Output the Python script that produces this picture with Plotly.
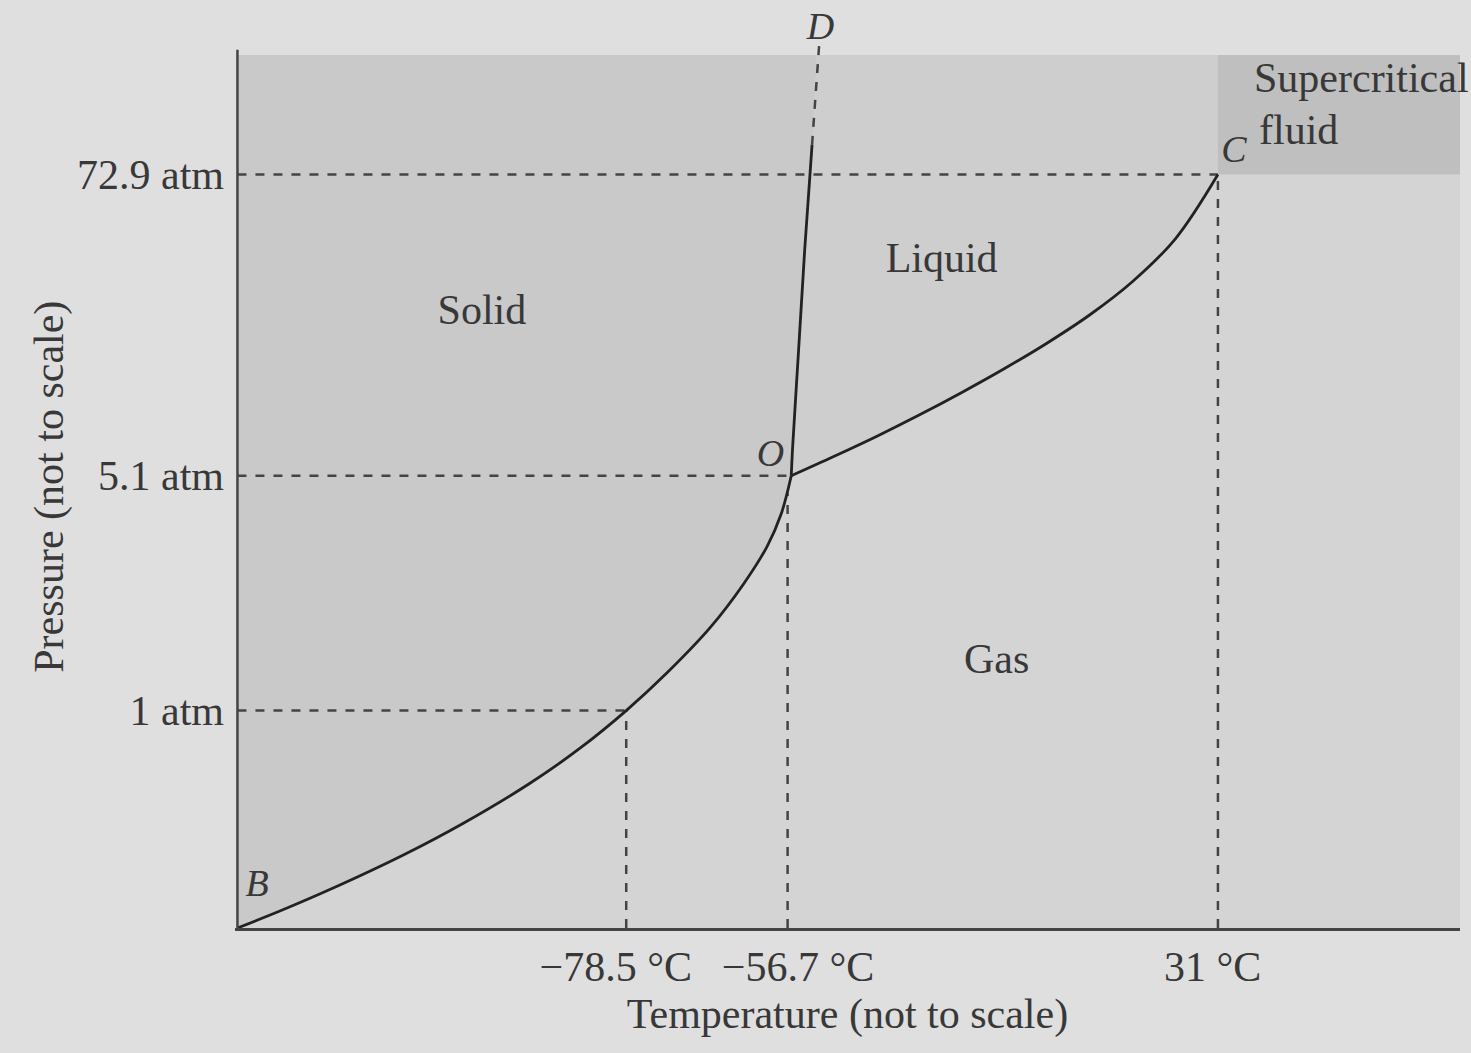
import plotly.graph_objects as go

# ---- data (diagram units, not to scale) ----
x_tick_pos = [31.8, 45.0, 80.2]
x_tick_text = ["\u221278.5 \u00b0C&nbsp;&nbsp;", "&nbsp;&nbsp;\u221256.7 \u00b0C", "31 \u00b0C&nbsp;"]
y_tick_pos = [24.9, 51.8, 86.3]
y_tick_text = ["1 atm", "5.1 atm", "72.9 atm"]

# sublimation curve B -> O
sub_x = [0.0, 3.52, 7.60, 13.57, 18.48, 23.96, 28.05, 31.8, 35.16, 38.68, 41.37, 43.34, 44.48, 45.3]
sub_y = [0.0, 1.97, 4.43, 8.36, 12.00, 16.61, 20.62, 24.9, 29.26, 34.43, 39.35, 43.75, 47.44, 51.8]
# melting curve O -> D (solid part)
melt_x = [45.3, 45.4, 45.9, 46.4, 47.0]
melt_y = [51.8, 54.8, 66.2, 77.7, 89.7]
# dashed continuation towards D
meltd_x = [47.0, 47.6]
meltd_y = [89.7, 101.5]
# vaporisation curve O -> C
vap_x = [45.3, 48.77, 52.27, 55.76, 59.25, 62.75, 66.24, 69.73, 73.22, 76.72, 80.2]
vap_y = [51.8, 54.00, 56.30, 58.75, 61.34, 64.08, 67.01, 70.24, 74.05, 78.94, 86.3]

# ends of the dashed guide lines (where they meet the curves)
guide_v_top = [24.9, 49.8, 86.3]
guide_h_end = [31.8, 45.3, 80.2]

phase_labels = ["Solid", "Liquid", "Gas"]
phase_x = [20.0, 57.6, 62.1]
phase_y = [70.4, 76.3, 30.4]

point_labels = ["B", "O", "C", "D"]
point_x = [1.6, 43.6, 81.5, 47.7]
point_y = [4.7, 54.0, 88.8, 102.9]

FONT = "Liberation Serif"
TXT = "#383838"
LINE = "#222222"
DASH = "#444444"
FS = 42

fig = go.Figure()

# shaded regions
fig.add_trace(go.Scatter(x=[0, 100, 100, 0, 0], y=[0, 0, 100, 100, 0], fill="toself",
                         fillcolor="#d4d4d4", line=dict(width=0), mode="lines",
                         hoverinfo="skip", showlegend=False))
solid_x = sub_x + melt_x[1:] + [47.4, 0, 0]
solid_y = sub_y + melt_y[1:] + [100, 100, 0]
fig.add_trace(go.Scatter(x=solid_x, y=solid_y, fill="toself", fillcolor="#c9c9c9",
                         line=dict(width=0), mode="lines", hoverinfo="skip", showlegend=False))
liq_x = vap_x + [80.2, 47.4] + melt_x[::-1]
liq_y = vap_y + [100, 100] + melt_y[::-1]
fig.add_trace(go.Scatter(x=liq_x, y=liq_y, fill="toself", fillcolor="#cecece",
                         line=dict(width=0), mode="lines", hoverinfo="skip", showlegend=False))
fig.add_trace(go.Scatter(x=[80.2, 100, 100, 80.2, 80.2], y=[86.3, 86.3, 100, 100, 86.3], fill="toself",
                         fillcolor="#bfbfbf", line=dict(width=0), mode="lines",
                         hoverinfo="skip", showlegend=False))

# dashed guide lines
for xt, top in zip(x_tick_pos, guide_v_top):
    fig.add_trace(go.Scatter(x=[xt, xt], y=[0, top], mode="lines",
                             line=dict(color=DASH, width=2.5, dash="dash"),
                             hoverinfo="skip", showlegend=False))
for yt, end in zip(y_tick_pos, guide_h_end):
    fig.add_trace(go.Scatter(x=[0, end], y=[yt, yt], mode="lines",
                             line=dict(color=DASH, width=2.5, dash="dash"),
                             hoverinfo="skip", showlegend=False))

# phase boundary curves
for cx, cy in [(sub_x, sub_y), (melt_x, melt_y), (vap_x, vap_y)]:
    fig.add_trace(go.Scatter(x=cx, y=cy, mode="lines",
                             line=dict(color=LINE, width=2.8, shape="spline", smoothing=1.0),
                             hoverinfo="skip", showlegend=False))
fig.add_trace(go.Scatter(x=meltd_x, y=meltd_y, mode="lines", line=dict(color=DASH, width=2.5, dash="dash"),
                         hoverinfo="skip", showlegend=False))

# left axis line
fig.add_trace(go.Scatter(x=[0, 0], y=[0, 100.6], mode="lines", line=dict(color="#444444", width=2.5),
                         hoverinfo="skip", showlegend=False))

# labels
fig.add_trace(go.Scatter(x=phase_x, y=phase_y, mode="text", text=phase_labels,
                         textfont=dict(family=FONT, size=FS, color=TXT),
                         hoverinfo="skip", showlegend=False))
fig.add_trace(go.Scatter(x=point_x, y=point_y, mode="text",
                         text=["<i>" + t + "</i>" for t in point_labels],
                         textfont=dict(family=FONT, size=38, color=TXT), cliponaxis=False,
                         hoverinfo="skip", showlegend=False))
fig.add_annotation(x=83.0, y=97.4, text="Supercritical", showarrow=False, xanchor="left",
                   font=dict(family=FONT, size=FS, color=TXT))
fig.add_annotation(x=83.4, y=91.4, text="fluid", showarrow=False, xanchor="left",
                   font=dict(family=FONT, size=FS, color=TXT))
fig.add_annotation(xref="paper", yref="paper", x=-0.151, y=0.486, text="Pressure (not to scale)",
                   textangle=-90, showarrow=False, xanchor="center", yanchor="middle",
                   font=dict(family=FONT, size=FS, color=TXT))

fig.update_layout(
    width=1471, height=1053,
    margin=dict(l=235, r=11, t=20, b=125),
    paper_bgcolor="#dfdfdf", plot_bgcolor="#dfdfdf",
    showlegend=False,
    xaxis=dict(range=[-0.2, 100], showgrid=False, zeroline=False, showline=True,
               linecolor="#444444", linewidth=2.5, ticks="", tickangle=0,
               tickmode="array", tickvals=x_tick_pos, ticktext=x_tick_text,
               tickfont=dict(family=FONT, size=FS, color=TXT),
               title=dict(text="Temperature (not to scale)", standoff=10,
                          font=dict(family=FONT, size=FS, color=TXT))),
    yaxis=dict(range=[0, 104], showgrid=False, zeroline=False, showline=False, ticks="",
               tickmode="array", tickvals=y_tick_pos, ticktext=y_tick_text,
               tickfont=dict(family=FONT, size=FS, color=TXT), ticklabelstandoff=10),
)

fig.write_html("out.html")
